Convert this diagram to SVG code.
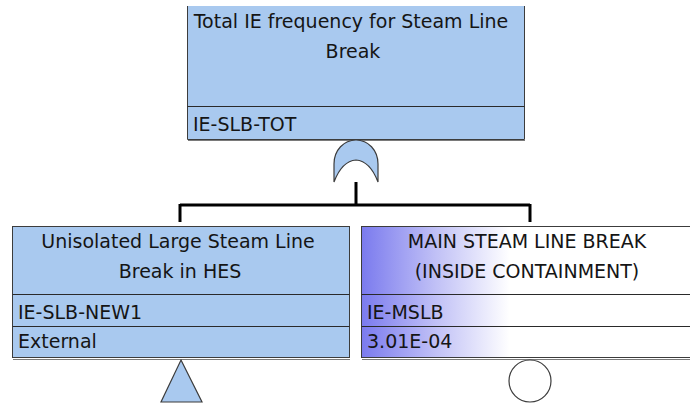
<svg xmlns="http://www.w3.org/2000/svg" width="690" height="405" viewBox="0 0 690 405">
<defs>
<linearGradient id="grad" x1="361" y1="0" x2="699" y2="0" gradientUnits="userSpaceOnUse">
<stop offset="0" stop-color="#7a7aee"/>
<stop offset="0.22" stop-color="#c0c0f6"/>
<stop offset="0.44" stop-color="#ffffff"/>
<stop offset="1" stop-color="#ffffff"/>
</linearGradient>
</defs>
<style>
.box{fill:#a9c9ef;stroke:#3c3c3c;stroke-width:1}
.fill{fill:#a9c9ef}
.edge{fill:none;stroke:#3c3c3c;stroke-width:1}
.gbox{fill:url(#grad);stroke:#3c3c3c;stroke-width:1}
.div{stroke:#2a2a2a;stroke-width:1}
.shadow{stroke:#7a7a7a;stroke-width:1}
.t{font-family:"DejaVu Sans",Verdana,sans-serif;font-size:19px;fill:#151515}
.c{text-anchor:middle}
.conn{fill:none;stroke:#000;stroke-width:3}
.gate{fill:#a9c9ef;stroke:#3c3c3c;stroke-width:1.2}
</style>
<g id="connectors">
<path class="conn" d="M356 182 V205 M180 205 H530 M180 204 V222 M530 204 V222"/>
</g>
<g id="top">
<rect class="fill" x="187.5" y="6" width="337" height="133"/>
<path class="edge" d="M187.5 6 V139.5 H524.5 V6"/>
<line class="div" x1="187.5" y1="106.5" x2="524.5" y2="106.5"/>
<line class="shadow" x1="188" y1="140.5" x2="525" y2="140.5"/>
<text class="t c" x="351" y="28">Total IE frequency for Steam Line</text>
<text class="t c" x="353" y="58">Break</text>
<text class="t" x="193" y="131">IE-SLB-TOT</text>
<path class="gate" d="M334 182 V164 C334 150 344 140 356 140 C368 140 378 150 378 164 V182 Q370 161 356 160 Q342 161 334 182 Z"/>
</g>
<g id="left">
<rect class="box" x="12.5" y="226.5" width="337" height="131"/>
<line class="div" x1="12.5" y1="294.5" x2="349.5" y2="294.5"/>
<line class="div" x1="12.5" y1="326.5" x2="349.5" y2="326.5"/>
<line class="shadow" x1="13" y1="359.5" x2="350" y2="359.5"/>
<text class="t c" x="178" y="248">Unisolated Large Steam Line</text>
<text class="t c" x="180" y="278">Break in HES</text>
<text class="t" x="18" y="319">IE-SLB-NEW1</text>
<text class="t" x="18" y="348">External</text>
<path class="gate" d="M181 360 L202 402 H161 Z"/>
</g>
<g id="right">
<rect class="gbox" x="361.5" y="226.5" width="337" height="131"/>
<line class="div" x1="361.5" y1="294.5" x2="698" y2="294.5"/>
<line class="div" x1="361.5" y1="326.5" x2="698" y2="326.5"/>
<line class="shadow" x1="362" y1="359.5" x2="698" y2="359.5"/>
<text class="t c" x="527" y="248">MAIN STEAM LINE BREAK</text>
<text class="t c" x="527" y="278">(INSIDE CONTAINMENT)</text>
<text class="t" x="367" y="319">IE-MSLB</text>
<text class="t" x="367" y="348">3.01E-04</text>
<circle cx="530" cy="381" r="21" fill="#ffffff" stroke="#3c3c3c" stroke-width="1.2"/>
</g>
</svg>
